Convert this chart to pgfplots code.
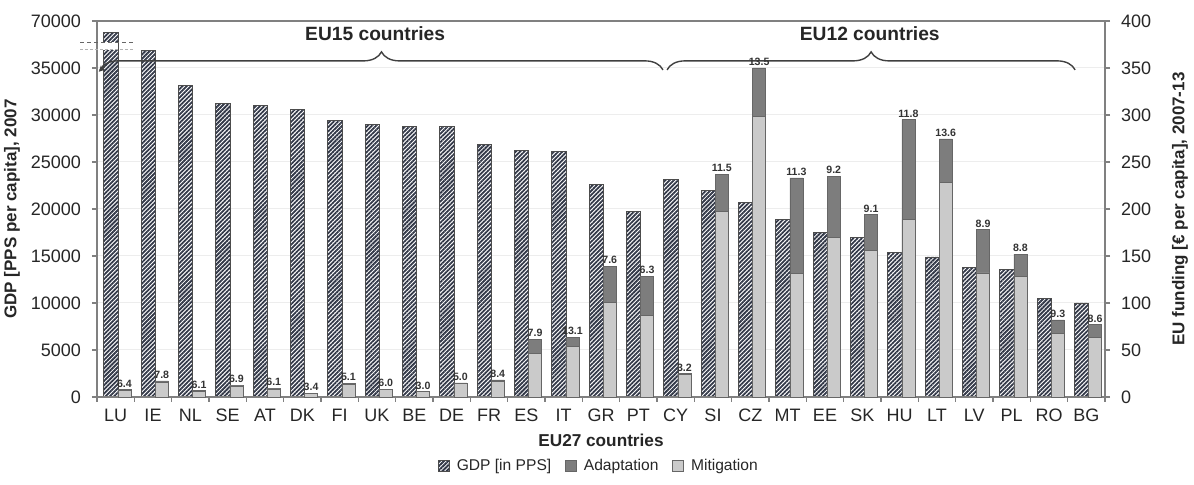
\documentclass[border=0pt]{standalone}
\usepackage{fontspec}
\setmainfont{Liberation Sans}
\usepackage{pgfplots}
\usepackage{pgfplotstable}
\pgfplotsset{compat=1.18}
\usetikzlibrary{decorations.pathreplacing,patterns.meta,arrows.meta}
\definecolor{gdpc}{RGB}{50,56,72}
\definecolor{adac}{RGB}{125,125,125}
\definecolor{mitc}{RGB}{202,202,202}

% GDP [PPS per capita] 2007 (LU plotted at its position on the broken scale)
\pgfplotstableread{
x gdp
0 38750
1 36900
2 33100
3 31200
4 31000
5 30600
6 29400
7 29000
8 28800
9 28800
10 26900
11 26200
12 26100
13 22600
14 19700
15 23100
16 22000
17 20700
18 18900
19 17500
20 17000
21 15400
22 14900
23 13800
24 13600
25 10500
26 10000
}\gdptab

% EU funding [EUR per capita] 2007-13: mitigation, total (mitigation+adaptation), label
\pgfplotstableread{
x mit tot lab
0 7.3 7.9 6.4
1 16.0 17.1 7.8
2 6.3 6.7 6.1
3 11.7 12.5 6.9
4 8.6 9.2 6.1
5 3.7 3.9 3.4
6 13.8 14.6 5.1
7 7.7 8.2 6.0
8 5.5 5.7 3.0
9 14.2 14.9 5.0
10 16.6 18.1 8.4
11 46.5 61.5 7.9
12 54 63.5 13.1
13 101 139 7.6
14 87 128.5 6.3
15 24 24.8 3.2
16 197 237 11.5
17 298 350 13.5
18 131 233 11.3
19 170 235 9.2
20 156 194 9.1
21 189 295 11.8
22 228 274.5 13.6
23 132 178 8.9
24 128 152 8.8
25 68 82 9.3
26 63 77 8.6
}\fundtab

\begin{document}
\begin{tikzpicture}
\path[use as bounding box] (-48.5pt,-44pt) rectangle (548.5pt,198.5pt);

\begin{axis}[
  at={(0,0)}, anchor=south west,
  scale only axis, width=504pt, height=188pt,
  xmin=-0.5, xmax=26.5, ymin=0, ymax=40000,
  clip=false, scaled y ticks=false,
  axis line style={draw=black!50, line width=0.9pt},
  ytick={0,5000,10000,15000,20000,25000,30000,35000,40000},
  yticklabels={0,5000,10000,15000,20000,25000,30000,35000,70000},
  ytick pos=left, tick align=outside, major tick length=2.5pt,
  ytick style={draw=black!50, line width=0.6pt},
  xtick={0,...,26},
  xticklabels={LU,IE,NL,SE,AT,DK,FI,UK,BE,DE,FR,ES,IT,GR,PT,CY,SI,CZ,MT,EE,SK,HU,LT,LV,PL,RO,BG},
  xtick style={draw=none},
  ymajorgrids, major grid style={draw=black!7, line width=0.5pt},
  ticklabel style={font=\fontsize{9}{10}\selectfont, text=black!85},
  yticklabel style={xshift=-2pt},
  xlabel={EU27 countries},
  xlabel style={at={(axis description cs:0.5,-0.1144)}, anchor=center, font=\bfseries\fontsize{8.6}{10}\selectfont, text=black!85},
  ylabel={GDP [PPS per capita], 2007},
  every axis y label/.style={at={(axis description cs:-0.0843,0.5)}, rotate=90, anchor=center, font=\bfseries\fontsize{8.5}{10}\selectfont, text=black!85},
]
\addplot[ybar, bar width=0.38, bar shift=-0.13, draw=black!70, line width=0.4pt, fill=white,
  postaction={pattern={Lines[angle=45,distance=1.5pt,line width=0.9pt]}, pattern color=gdpc}]
  table[x=x,y=gdp]{\gdptab};
% scale break on the LU bar
\fill[white] (axis cs:-0.33,36950) rectangle (axis cs:0.07,37750);
\draw[black!60, line width=0.6pt, dash pattern=on 2pt off 1.5pt] (axis cs:-0.95,37750) -- (axis cs:0.5,37750);
\draw[black!30, line width=0.6pt, dash pattern=on 1.5pt off 1pt] (axis cs:-0.95,36950) -- (axis cs:0.5,36950);
\end{axis}

\begin{axis}[
  at={(0,0)}, anchor=south west,
  scale only axis, width=504pt, height=188pt,
  xmin=-0.5, xmax=26.5, ymin=0, ymax=400,
  clip=false,
  axis y line*=right, axis x line*=bottom,
  axis line style={draw=black!50, line width=0.9pt},
  ytick={0,50,100,150,200,250,300,350,400},
  yticklabels={0,50,100,150,200,250,300,350,400},
  xtick={-0.5,0.5,...,26.5}, xticklabels={},
  tick align=outside, major tick length=2.5pt,
  tick style={draw=black!50, line width=0.6pt},
  ticklabel style={font=\fontsize{9}{10}\selectfont, text=black!85},
  yticklabel style={xshift=2pt},
  ybar, bar width=0.35,
  legend image code/.code={\draw[#1] (0pt,-2.7pt) rectangle (5.4pt,2.7pt);},
  legend style={draw=none, fill=none, legend columns=3, at={(axis description cs:0.499,-0.1835)}, anchor=center,
    font=\fontsize{7.8}{9}\selectfont, text=black!85,
    /tikz/every odd column/.append style={column sep=1.5pt},
    /tikz/every even column/.append style={column sep=5pt}},
  ylabel={EU funding [€ per capita], 2007-13},
  every axis y label/.style={at={(axis description cs:1.0744,0.5)}, rotate=90, anchor=center, font=\bfseries\fontsize{8.5}{10}\selectfont, text=black!85},
]
\addlegendimage{draw=black!70, fill=white, postaction={pattern={Lines[angle=45,distance=1.5pt,line width=0.9pt]}, pattern color=gdpc}}
\addlegendentry{GDP [in PPS]}
\addlegendimage{draw=black!60, fill=adac}
\addlegendentry{Adaptation}
\addlegendimage{draw=black!60, fill=mitc}
\addlegendentry{Mitigation}

% total (adaptation on top of mitigation), labelled
\addplot[forget plot, fill=adac, draw=black!60, line width=0.4pt, bar shift=0.235,
  nodes near coords, point meta=explicit symbolic,
  nodes near coords style={font=\bfseries\fontsize{5.3}{6}\selectfont, text=black!80, inner sep=1pt, anchor=south}]
  table[x=x,y=tot,meta=lab]{\fundtab};
% mitigation part
\addplot[forget plot, fill=mitc, draw=black!60, line width=0.4pt, bar shift=0.235]
  table[x=x,y=mit]{\fundtab};

\draw[decorate, decoration={brace, amplitude=9pt}, draw=black!75, line width=0.7pt]
  (axis cs:-0.42,348) -- (axis cs:14.66,348);
\draw[draw=black!75, line width=0.7pt, -{Stealth[length=3pt,width=3pt]}] (axis cs:-0.3,352) -- (axis cs:-0.45,346);
\draw[decorate, decoration={brace, amplitude=9pt}, draw=black!75, line width=0.7pt]
  (axis cs:14.77,348) -- (axis cs:25.7,348);
\node[font=\bfseries\fontsize{9.6}{11}\selectfont, text=black!85] at (axis cs:6.95,387) {EU15 countries};
\node[font=\bfseries\fontsize{9.6}{11}\selectfont, text=black!85] at (axis cs:20.2,387) {EU12 countries};
\end{axis}
\end{tikzpicture}
\end{document}
